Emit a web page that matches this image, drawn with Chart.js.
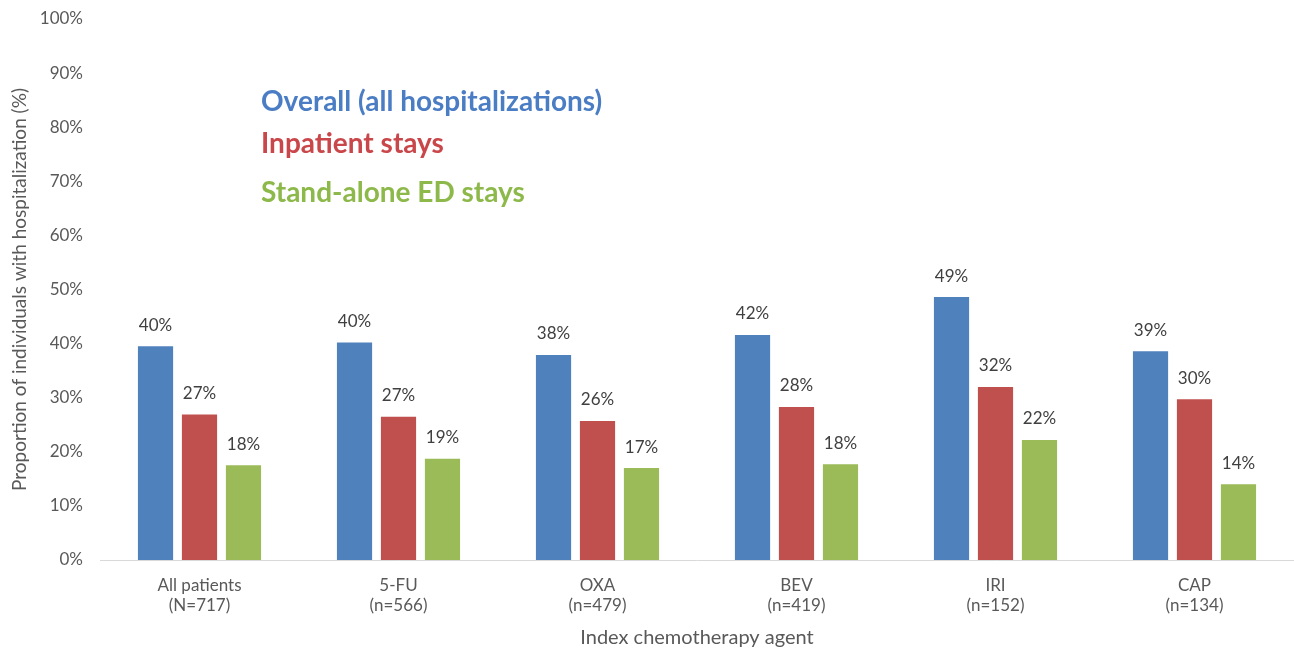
<!DOCTYPE html>
<html lang="en">
<head>
    <meta charset="UTF-8">
    <title>Hospitalization by index chemotherapy agent</title>
    <script src="https://cdn.jsdelivr.net/npm/chart.js"></script>
    <style>
        body {
            margin: 0;
            background-color: #ffffff;
            font-family: Lato, "Open Sans", sans-serif;
        }
        #wrap {
            position: relative;
            width: 1294px;
            height: 654px;
        }
    </style>
</head>
<body>
    <div id="wrap"><canvas id="hospChart"></canvas></div>

    <script>
        // Categories (two-line labels) and series, values in percent
        const categories = [
            ['All patients', '(N=717)'],
            ['5-FU', '(n=566)'],
            ['OXA', '(n=479)'],
            ['BEV', '(n=419)'],
            ['IRI', '(n=152)'],
            ['CAP', '(n=134)']
        ];
        const overall   = [39.5, 40.2, 37.9, 41.6, 48.6, 38.6];
        const inpatient = [26.9, 26.5, 25.7, 28.3, 32.0, 29.7];
        const edStays   = [17.5, 18.7, 17.0, 17.7, 22.2, 14.0];
        const yTicks    = [0, 10, 20, 30, 40, 50, 60, 70, 80, 90, 100];

        const seriesNames  = ['Overall (all hospitalizations)', 'Inpatient stays', 'Stand-alone ED stays'];
        const seriesColors = ['#4F81BD', '#C0504D', '#9BBB59'];
        const legendText   = ['#4A7DC4', '#C9474A', '#8DB84A'];

        const textGrey = '#595959';

        // value labels above each bar
        const barLabels = {
            id: 'barLabels',
            afterDatasetsDraw(chart) {
                const ctx = chart.ctx;
                ctx.save();
                ctx.font = '17px Lato';
                ctx.fillStyle = '#404040';
                ctx.textAlign = 'center';
                ctx.textBaseline = 'middle';
                chart.data.datasets.forEach((ds, i) => {
                    chart.getDatasetMeta(i).data.forEach((bar, j) => {
                        ctx.fillText(Math.round(ds.data[j]) + '%', bar.x, bar.y - 21);
                    });
                });
                ctx.restore();
            }
        };

        // legend drawn as coloured text only, like the original
        const textLegend = {
            id: 'textLegend',
            afterDraw(chart) {
                const ctx = chart.ctx;
                const rows = [102, 144, 193];
                ctx.save();
                ctx.font = 'bold 28px Lato';
                ctx.textAlign = 'left';
                ctx.textBaseline = 'middle';
                chart.data.datasets.forEach((ds, i) => {
                    ctx.fillStyle = legendText[i];
                    ctx.fillText(ds.label, 261, rows[i]);
                });
                ctx.restore();
            }
        };

        const ctx = document.getElementById('hospChart').getContext('2d');
        new Chart(ctx, {
            type: 'bar',
            data: {
                labels: categories,
                datasets: [overall, inpatient, edStays].map((vals, i) => ({
                    label: seriesNames[i],
                    data: vals,
                    backgroundColor: seriesColors[i],
                    categoryPercentage: 0.663,
                    barPercentage: 0.8
                }))
            },
            options: {
                responsive: true,
                maintainAspectRatio: false,
                animation: false,
                layout: { padding: { top: 19, right: 0, bottom: 0, left: 8 } },
                plugins: {
                    legend: { display: false },
                    tooltip: { enabled: false }
                },
                scales: {
                    x: {
                        afterFit(axis) {
                            axis.height = 94;
                            axis.paddingLeft = 0;
                            axis.paddingRight = 0;
                        },
                        grid: { display: false, drawTicks: false },
                        border: { display: true, color: '#D9D9D9', width: 1 },
                        ticks: {
                            color: textGrey,
                            font: { family: 'Lato', size: 17 },
                            padding: 15,
                            maxRotation: 0
                        },
                        title: {
                            display: true,
                            text: 'Index chemotherapy agent',
                            color: textGrey,
                            font: { family: 'Lato', size: 20 },
                            padding: { top: 0, bottom: 4 }
                        }
                    },
                    y: {
                        min: 0,
                        max: 100,
                        afterBuildTicks(axis) {
                            axis.ticks = yTicks.map(v => ({ value: v }));
                        },
                        afterFit(axis) {
                            axis.width = 92;
                            axis.paddingTop = 0;
                            axis.paddingBottom = 0;
                        },
                        grid: { display: false, drawTicks: false },
                        border: { display: false },
                        ticks: {
                            color: textGrey,
                            font: { family: 'Lato', size: 17 },
                            padding: 17,
                            callback: v => v + '%'
                        },
                        title: {
                            display: true,
                            text: 'Proportion of individuals with hospitalization (%)',
                            color: textGrey,
                            font: { family: 'Lato', size: 19 },
                            padding: { top: 0, bottom: 0 }
                        }
                    }
                }
            },
            plugins: [barLabels, textLegend]
        });
    </script>
</body>
</html>
